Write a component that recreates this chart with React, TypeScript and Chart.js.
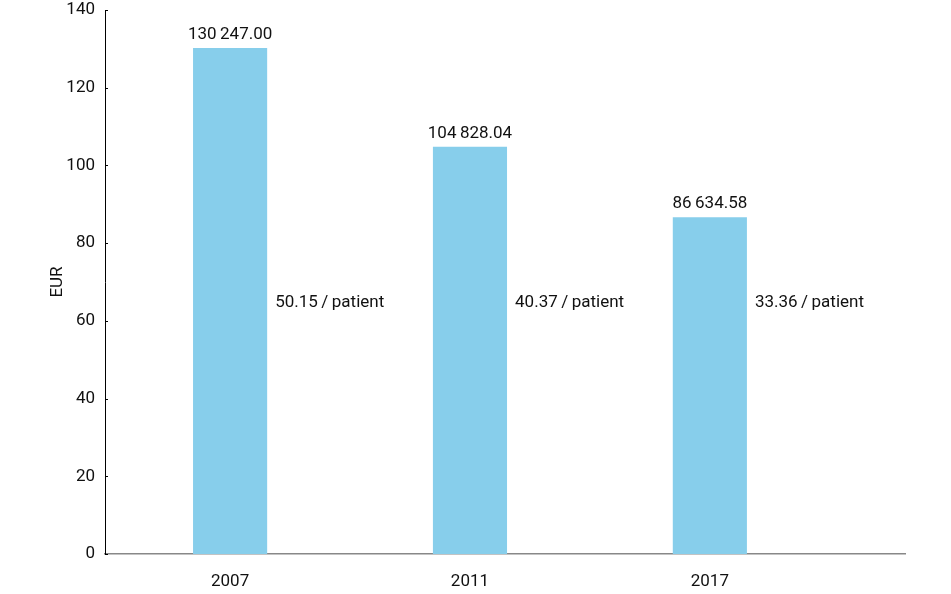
import { useEffect, useRef } from 'react';
import { Chart, registerables } from 'chart.js';

Chart.register(...registerables);

const categories = ['2007', '2011', '2017'];
const totalCosts = [130.247, 104.82804, 86.63458];
const totalLabels = ['130\u2009247.00', '104\u2009828.04', '86\u2009634.58'];
const perPatientCosts = ['50.15', '40.37', '33.36'];
const perPatientUnit = 'patient';
const perPatientLevel = 64.7;
const yAxisTitle = 'EUR';
const yMin = 0;
const yMax = 140;
const yStep = 20;

const FONT = 'Roboto, "Liberation Sans", sans-serif';
const FONT_SIZE = 17;
const TEXT_COLOR = '#111111';
const BAR_COLOR = '#87CEEB';

const annotations = {
  id: 'annotations',
  afterDatasetsDraw(chart: any) {
    const ctx = chart.ctx;
    const meta = chart.getDatasetMeta(0);
    const yScale = chart.scales.y;
    ctx.save();
    ctx.font = `${FONT_SIZE}px ${FONT}`;
    ctx.fillStyle = TEXT_COLOR;
    meta.data.forEach((bar: any, i: number) => {
      const props = bar.getProps(['x', 'y', 'width'], true);
      ctx.textAlign = 'center';
      ctx.textBaseline = 'alphabetic';
      ctx.fillText(totalLabels[i], props.x, props.y - 9);
      ctx.textAlign = 'left';
      ctx.textBaseline = 'middle';
      ctx.fillText(
        `${perPatientCosts[i]}\u2009/\u2009${perPatientUnit}`,
        props.x + props.width / 2 + 8,
        yScale.getPixelForValue(perPatientLevel)
      );
    });
    // inward tick marks on y axis
    const left = chart.chartArea.left;
    ctx.strokeStyle = '#000';
    ctx.lineWidth = 1;
    yScale.ticks.forEach((t: any) => {
      const py = Math.round(yScale.getPixelForValue(t.value)) + 0.5;
      ctx.beginPath();
      ctx.moveTo(left, py);
      ctx.lineTo(left + 3, py);
      ctx.stroke();
    });
    ctx.restore();
  },
};

const whiteBg = {
  id: 'whiteBg',
  beforeDraw(chart: any) {
    const ctx = chart.ctx;
    ctx.save();
    ctx.fillStyle = '#ffffff';
    ctx.fillRect(0, 0, chart.width, chart.height);
    ctx.restore();
  },
};

export default function App() {
  const ref = useRef<HTMLCanvasElement | null>(null);
  useEffect(() => {
    document.body.style.margin = '0';
    if (!ref.current) return;
    const chart = new Chart(ref.current, {
      type: 'bar',
      data: {
        datasets: [
          {
            data: totalCosts.map((v, i) => ({ x: i, y: v })),
            backgroundColor: BAR_COLOR,
            borderWidth: 0,
            barPercentage: 0.309,
            categoryPercentage: 1,
          },
        ],
      },
      options: {
        responsive: false,
        animation: false,
        devicePixelRatio: 1,
        layout: { padding: { top: 10, right: 46, left: 0, bottom: 0 } },
        plugins: {
          legend: { display: false },
          tooltip: { enabled: false },
        },
        scales: {
          x: {
            type: 'linear',
            offset: false,
            min: -0.5215,
            max: 2.8135,
            afterBuildTicks: (s: any) => {
              s.ticks = categories.map((_, i) => ({ value: i }));
            },
            afterFit: (s: any) => {
              s.height = 40;
            },
            grid: { display: false, drawTicks: false },
            border: { display: true, color: '#888888', width: 1.5 },
            ticks: {
              autoSkip: false,
              maxRotation: 0,
              padding: 18,
              color: TEXT_COLOR,
              font: { family: FONT, size: FONT_SIZE },
              callback: (v: any) => categories[v] ?? '',
            },
          },
          y: {
            min: yMin,
            max: yMax,
            afterFit: (s: any) => {
              s.width = 105;
              s.paddingTop = 0;
              s.paddingBottom = 0;
            },
            grid: { display: false, drawTicks: false },
            border: { display: true, color: '#000000', width: 1 },
            ticks: {
              stepSize: yStep,
              padding: 10,
              color: TEXT_COLOR,
              font: { family: FONT, size: FONT_SIZE },
            },
            title: {
              display: true,
              text: yAxisTitle,
              color: TEXT_COLOR,
              font: { family: FONT, size: FONT_SIZE },
              padding: { top: 48, bottom: 0 },
            },
          },
        },
      },
      plugins: [whiteBg, annotations],
    } as any);
    return () => chart.destroy();
  }, []);
  return (
    <div style={{ width: 951, height: 594 }}>
      <canvas ref={ref} width={951} height={594} />
    </div>
  );
}
